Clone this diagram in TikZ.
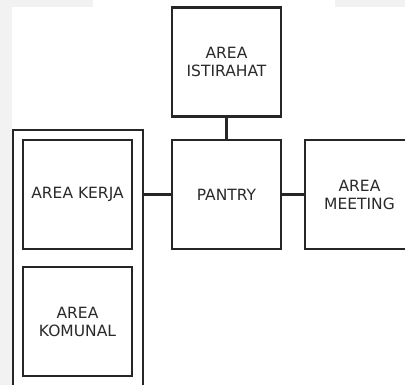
\documentclass[tikz,border=0pt]{standalone}
\usepackage{fontspec}
\setmainfont{DejaVu Sans}
\definecolor{bggray}{HTML}{F2F2F2}
\definecolor{txt}{HTML}{2A2A2A}
\begin{document}
\begin{tikzpicture}[x=1pt,y=-1pt,
  room/.style={draw=black!85,line width=2.2pt,fill=white,minimum width=109pt,minimum height=109pt,
    inner sep=0pt,align=center,font=\fontsize{15.5}{18}\selectfont,text=txt},
  link/.style={draw=black!85,line width=2.2pt}]
\useasboundingbox (0,0) rectangle (405,385);
\begin{scope}
\clip (0,0) rectangle (405,385);
\fill[bggray] (0,0) rectangle (405,385);
\fill[white] (12,7) rectangle (410,390);
\fill[white] (93,0) rectangle (335,8);
\draw[link] (13,130) rectangle (143,395);
\node[room] (ist) at (226.5,62) {AREA\\ISTIRAHAT};
\node[room] (pan) at (226.5,194.5) {PANTRY};
\node[room] (meet) at (359.5,194.5) {AREA\\MEETING};
\node[room] (ker) at (77.5,194.5) {AREA KERJA};
\node[room] (kom) at (77.5,321.5) {AREA\\KOMUNAL};
\coordinate (grp) at (143,194.5);
\draw[link] (ist.south) -- (pan.north);
\draw[link] (grp) -- (pan.west);
\draw[link] (pan.east) -- (meet.west);
\end{scope}
\end{tikzpicture}
\end{document}
